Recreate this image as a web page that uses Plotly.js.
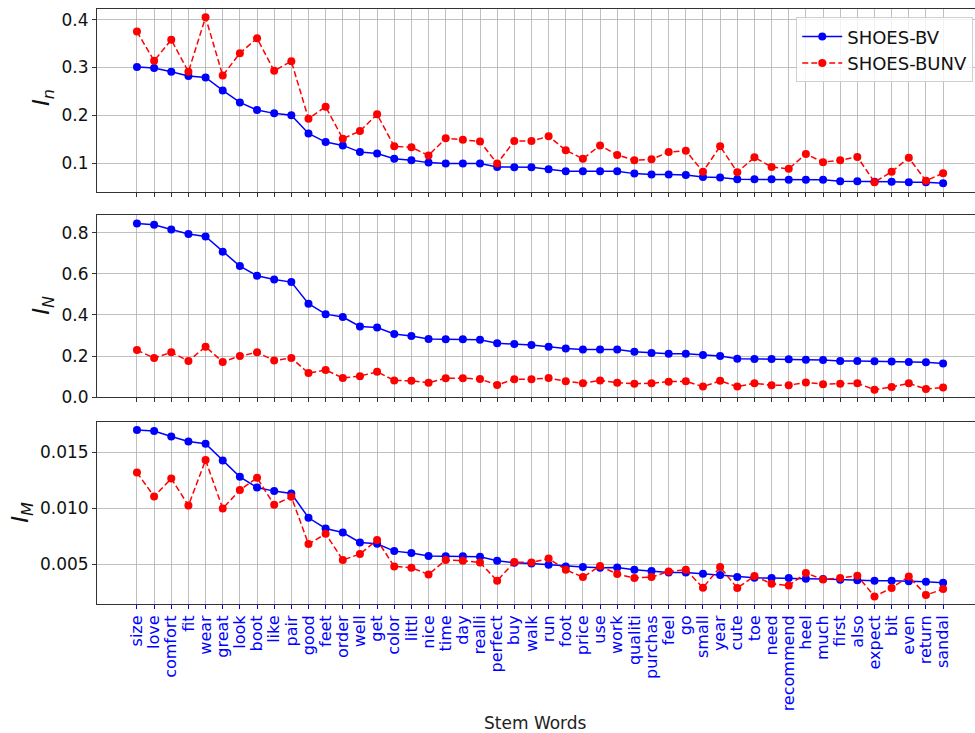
<!DOCTYPE html>
<html>
<head>
<meta charset="utf-8">
<script src="https://cdn.plot.ly/plotly-3.0.1.min.js"></script>
<style>html,body{margin:0;padding:0;background:#fff;}#chart{width:975px;height:733px;}</style>
</head>
<body>
<div id="chart"></div>
<script>
const words = ["size","love","comfort","fit","wear","great","look","boot","like","pair","good","feet","order","well","get","color","littl","nice","time","day","realli","perfect","buy","walk","run","foot","price","use","work","qualiti","purchas","feel","go","small","year","cute","toe","need","recommend","heel","much","first","also","expect","bit","even","return","sandal"];

const In_BV = [0.301,0.299,0.291,0.282,0.279,0.252,0.227,0.211,0.204,0.200,0.162,0.144,0.137,0.123,0.120,0.109,0.106,0.101,0.099,0.099,0.099,0.092,0.0915,0.0915,0.087,0.083,0.083,0.083,0.083,0.078,0.076,0.076,0.075,0.071,0.070,0.066,0.066,0.066,0.065,0.065,0.065,0.062,0.062,0.061,0.061,0.060,0.060,0.058];
const In_BUNV = [0.375,0.314,0.358,0.291,0.405,0.283,0.330,0.361,0.293,0.313,0.193,0.218,0.151,0.167,0.202,0.135,0.133,0.116,0.152,0.149,0.145,0.099,0.146,0.146,0.156,0.127,0.109,0.137,0.117,0.106,0.108,0.123,0.126,0.082,0.135,0.081,0.112,0.092,0.088,0.119,0.102,0.106,0.113,0.060,0.082,0.111,0.063,0.079];

const IN_BV = [0.845,0.839,0.816,0.794,0.782,0.708,0.638,0.591,0.573,0.560,0.455,0.404,0.390,0.344,0.339,0.307,0.297,0.283,0.282,0.282,0.279,0.262,0.258,0.254,0.245,0.236,0.232,0.232,0.232,0.221,0.215,0.211,0.211,0.205,0.200,0.187,0.185,0.185,0.184,0.182,0.181,0.176,0.176,0.174,0.173,0.171,0.170,0.163];
const IN_BUNV = [0.229,0.190,0.218,0.176,0.245,0.171,0.200,0.218,0.178,0.190,0.117,0.132,0.093,0.102,0.123,0.081,0.079,0.070,0.092,0.092,0.088,0.059,0.087,0.087,0.093,0.077,0.067,0.081,0.070,0.065,0.067,0.075,0.077,0.051,0.079,0.051,0.067,0.058,0.058,0.071,0.063,0.065,0.067,0.036,0.049,0.067,0.039,0.047];

const IM_BV = [0.01703,0.01692,0.01643,0.01599,0.01578,0.01428,0.01282,0.01186,0.01154,0.01133,0.00915,0.00819,0.00783,0.00694,0.00682,0.00616,0.00599,0.00572,0.00570,0.00570,0.00565,0.00530,0.00512,0.00505,0.00494,0.00479,0.00473,0.00467,0.00470,0.00449,0.00437,0.00425,0.00425,0.00413,0.00401,0.00383,0.00377,0.00374,0.00374,0.00368,0.00365,0.00359,0.00356,0.00350,0.00350,0.00347,0.00341,0.00332];
const IM_BUNV = [0.01321,0.01106,0.01267,0.01025,0.01432,0.00998,0.01163,0.01273,0.01031,0.01103,0.00679,0.00771,0.00536,0.00590,0.00715,0.00479,0.00467,0.00407,0.00536,0.00530,0.00514,0.00350,0.00518,0.00514,0.00550,0.00449,0.00383,0.00482,0.00410,0.00375,0.00383,0.00434,0.00449,0.00288,0.00473,0.00285,0.00392,0.00323,0.00308,0.00419,0.00362,0.00374,0.00395,0.00210,0.00285,0.00389,0.00222,0.00276];

const seriesNames = ["SHOES-BV","SHOES-BUNV"];

const FONT = "DejaVu Sans, sans-serif";
const blueStyle = {mode:"lines+markers", line:{color:"#0000ff", width:1.5}, marker:{color:"#0000ff", size:8}};
const redStyle = {mode:"lines+markers", line:{color:"#ff0000", width:1.5, dash:"6px,3px"}, marker:{color:"#ff0000", size:8}};

const panels = [[In_BV, In_BUNV, "x", "y"], [IN_BV, IN_BUNV, "x2", "y2"], [IM_BV, IM_BUNV, "x3", "y3"]];
const traces = [];
panels.forEach((p, i) => {
  traces.push(Object.assign({x: words, y: p[0], xaxis: p[2], yaxis: p[3], name: seriesNames[0], showlegend: i === 0}, JSON.parse(JSON.stringify(blueStyle))));
  traces.push(Object.assign({x: words, y: p[1], xaxis: p[2], yaxis: p[3], name: seriesNames[1], showlegend: i === 0}, JSON.parse(JSON.stringify(redStyle))));
});

const xr = [-2.33, 48.86];
function xa(showLabels, anchor, tickcolor) {
  return {
    type: "category", range: xr, anchor: anchor,
    tickmode: "array", tickvals: words, ticktext: words,
    showgrid: true, gridcolor: "#b0b0b0", gridwidth: 0.8,
    showline: true, linecolor: "#333", linewidth: 1, mirror: true,
    ticks: "outside", ticklen: 4, tickcolor: tickcolor, tickwidth: 1,
    showticklabels: showLabels, tickangle: -90,
    tickfont: {family: FONT, size: 16, color: "#0000ff"},
    zeroline: false, automargin: false
  };
}
function ya(domain, range, tickvals, fmt, anchor) {
  return {
    domain: domain, range: range, anchor: anchor,
    tickvals: tickvals, tickformat: fmt,
    showgrid: true, gridcolor: "#b0b0b0", gridwidth: 0.8,
    showline: true, linecolor: "#333", linewidth: 1, mirror: false,
    ticks: "outside", ticklen: 4, tickcolor: "#333", tickwidth: 1,
    tickfont: {family: FONT, size: 17, color: "#111"},
    zeroline: false, automargin: false
  };
}

const layout = {
  width: 975, height: 733,
  margin: {l: 97, r: 0, t: 9, b: 128.7},
  paper_bgcolor: "#fff", plot_bgcolor: "#fff",
  showlegend: true,
  legend: {x: 0.998, y: 0.986, xanchor: "right", yanchor: "top", bgcolor: "rgba(255,255,255,0.8)", bordercolor: "#d0d0d0", borderwidth: 1,
           font: {family: FONT, size: 18, color: "#111"}, tracegroupgap: 0, itemwidth: 40},
  xaxis: xa(false, "y", "#333"),
  xaxis2: xa(false, "y2", "#333"),
  xaxis3: xa(true, "y3", "#0000ff"),
  yaxis: ya([0.6928, 1.0], [0.0400, 0.4223], [0.1,0.2,0.3,0.4], ".1f", "x"),
  yaxis2: ya([0.3471, 0.6540], [-0.002, 0.8876], [0.0,0.2,0.4,0.6,0.8], ".1f", "x2"),
  yaxis3: ya([0.0, 0.3067], [0.00142, 0.01778], [0.005,0.010,0.015], ".3f", "x3"),
  annotations: [
    {text: "Stem Words", xref: "paper", yref: "paper", x: 0.499, y: -0.2, xanchor: "center", yanchor: "middle", showarrow: false, font: {family: FONT, size: 17, color: "#222"}},
    {text: "<i>I</i><sub><i>n</i></sub>", xref: "paper", yref: "paper", x: (43-97)/878, y: (604.3-98)/595.3, xanchor: "center", yanchor: "middle", textangle: -90, showarrow: false, font: {family: FONT, size: 23, color: "#111"}},
    {text: "<i>I</i><sub><i>N</i></sub>", xref: "paper", yref: "paper", x: (43-97)/878, y: (604.3-306)/595.3, xanchor: "center", yanchor: "middle", textangle: -90, showarrow: false, font: {family: FONT, size: 23, color: "#111"}},
    {text: "<i>I</i><sub><i>M</i></sub>", xref: "paper", yref: "paper", x: (22-97)/878, y: (604.3-513)/595.3, xanchor: "center", yanchor: "middle", textangle: -90, showarrow: false, font: {family: FONT, size: 23, color: "#111"}}
  ]
};

Plotly.newPlot("chart", traces, layout, {staticPlot: true, displayModeBar: false});
</script>
</body>
</html>
